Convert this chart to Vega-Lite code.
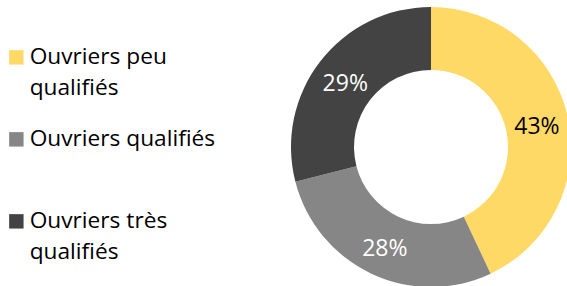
{
  "$schema": "https://vega.github.io/schema/vega-lite/v6.json",
  "width": 272,
  "height": 278,
  "autosize": {"type": "none"},
  "padding": {"left": 295, "top": 8, "right": 0, "bottom": 0},
  "background": "white",
  "config": {"view": {"stroke": null}, "font": "Open Sans"},
  "data": {
    "values": [
      {"categorie": "Ouvriers peu qualifiés", "part": 0.43, "ordre": 1},
      {"categorie": "Ouvriers qualifiés", "part": 0.28, "ordre": 2},
      {"categorie": "Ouvriers très qualifiés", "part": 0.29, "ordre": 3}
    ]
  },
  "encoding": {
    "theta": {"field": "part", "type": "quantitative", "stack": true},
    "order": {"field": "ordre", "type": "quantitative"}
  },
  "layer": [
    {
      "mark": {"type": "arc", "outerRadius": 140, "innerRadius": 77},
      "encoding": {
        "color": {
          "field": "categorie",
          "type": "nominal",
          "scale": {
            "domain": ["Ouvriers peu qualifiés", "Ouvriers qualifiés", "Ouvriers très qualifiés"],
            "range": ["#FFD966", "#868686", "#434343"]
          },
          "legend": {
            "title": null,
            "orient": "none",
            "legendX": -290,
            "legendY": 38,
            "symbolType": "square",
            "symbolSize": 208,
            "symbolStrokeWidth": 0,
            "labelFont": "Open Sans",
            "labelFontSize": 22.7,
            "labelColor": "#000000",
            "labelOffset": 2,
            "labelLimit": 400,
            "rowPadding": 27,
            "labelExpr": "datum.label == 'Ouvriers peu qualifiés' ? ['Ouvriers peu', 'qualifiés'] : datum.label == 'Ouvriers très qualifiés' ? ['Ouvriers très', 'qualifiés'] : [datum.label, ' ']",
            "encode": {"labels": {"update": {"lineHeight": {"value": 31}}}}
          }
        }
      }
    },
    {
      "mark": {"type": "text", "radius": 108.5, "dy": 4, "font": "Open Sans", "fontSize": 23},
      "encoding": {
        "text": {"field": "part", "type": "quantitative", "format": ".0%"},
        "color": {"condition": {"test": "datum.ordre == 1", "value": "#000000"}, "value": "#FFFFFF"}
      }
    }
  ]
}
